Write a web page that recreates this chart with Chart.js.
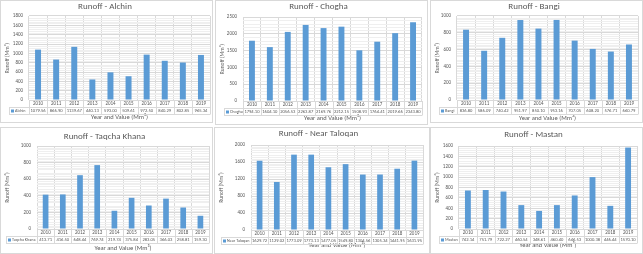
<!DOCTYPE html>
<html>
<head>
<meta charset="utf-8">
<script src="https://cdn.jsdelivr.net/npm/chart.js@4/dist/chart.umd.min.js"></script>
<style>
  body { margin: 0; background: #fff; width: 643px; height: 254px; position: relative; overflow: hidden; }
  canvas { position: absolute; outline: 1px solid #d9d9d9; outline-offset: -1px; }
</style>
</head>
<body>
<canvas id="c0"></canvas>
<canvas id="c1"></canvas>
<canvas id="c2"></canvas>
<canvas id="c3"></canvas>
<canvas id="c4"></canvas>
<canvas id="c5"></canvas>
<script>
// 데이터 (Mm³)
var years = ['2010', '2011', '2012', '2013', '2014', '2015', '2016', '2017', '2018', '2019'];
var alchin = [1079.56, 866.90, 1139.67, 440.13, 593.00, 509.61, 972.50, 840.29, 802.85, 965.34];
var chogha = [1794.10, 1604.10, 2056.53, 2263.87, 2169.76, 2212.15, 1508.93, 1764.41, 2019.66, 2343.80];
var bangi = [836.80, 586.09, 740.42, 951.97, 850.10, 953.16, 707.05, 608.20, 576.71, 660.79];
var taqchaKhana = [413.71, 416.50, 648.44, 769.74, 219.74, 375.84, 283.05, 366.03, 258.81, 159.30];
var nearTaloqan = [1629.72, 1129.02, 1773.09, 1773.13, 1477.05, 1549.80, 1304.56, 1305.34, 1441.95, 1631.95];
var mastan = [742.14, 751.79, 722.27, 460.54, 348.61, 460.40, 646.53, 1000.38, 446.44, 1570.10];

var stationNames = ['Alchin', 'Chogha', 'Bangi', 'Taqcha Khana', 'Near Taloqan', 'Mastan'];
var stationValues = [alchin, chogha, bangi, taqchaKhana, nearTaloqan, mastan];
var yMaxes = [1800, 2500, 1000, 1000, 2000, 1600];
var ySteps = [200, 500, 100, 100, 200, 200];

// 패널 위치와 크기
var boxes = [
    {x: 0,   y: 0,   w: 213, h: 123, tCY: 7,  top: 16, bot: 100, xtCY: 117, yW: 29, pr: 3, lc: 9},
    {x: 215, y: 0,   w: 213, h: 125, tCY: 7,  top: 17, bot: 101, xtCY: 118, yW: 28, pr: 6, lc: 9},
    {x: 430, y: 0,   w: 213, h: 123, tCY: 7,  top: 16, bot: 100, xtCY: 118, yW: 27, pr: 5, lc: 9},
    {x: 0,   y: 127, w: 213, h: 127, tCY: 10, top: 19, bot: 102, xtCY: 121, yW: 37, pr: 4, lc: 6},
    {x: 214, y: 127, w: 216, h: 127, tCY: 7,  top: 18, bot: 103, xtCY: 118, yW: 37, pr: 7, lc: 7},
    {x: 430, y: 127, w: 213, h: 127, tCY: 8,  top: 19, bot: 102, xtCY: 118, yW: 29, pr: 6, lc: 9}
];

var FONT = 'Carlito, Lato, "Liberation Sans", sans-serif';
var TEXT = '#595959';
var GRID = '#d9d9d9';
var BAR = '#5B9BD5';

// 보조 눈금선 (주 눈금의 1/5)
var minorGridPlugin = {
    id: 'minorGrid',
    beforeDatasetsDraw: function(chart, args, opts) {
        var ys = chart.scales.y, a = chart.chartArea, ctx = chart.ctx;
        var minor = opts.step / 5;
        ctx.save();
        ctx.strokeStyle = '#efefef';
        ctx.lineWidth = 1;
        for (var v = minor; v < ys.max; v += minor) {
            if (Math.abs(v / opts.step - Math.round(v / opts.step)) < 1e-6) continue;
            var y = Math.round(ys.getPixelForValue(v)) + 0.5;
            ctx.beginPath(); ctx.moveTo(a.left, y); ctx.lineTo(a.right, y); ctx.stroke();
        }
        ctx.restore();
    }
};

// 차트 아래 데이터 표
var dataTablePlugin = {
    id: 'dataTable',
    afterDraw: function(chart, args, opts) {
        var ctx = chart.ctx, xs = chart.scales.x, a = chart.chartArea;
        var n = chart.data.labels.length;
        var cw = (xs.right - xs.left) / n;
        var r1 = a.bottom + opts.rowH, r2 = r1 + opts.rowH;
        var values = chart.data.datasets[0].data;
        ctx.save();
        ctx.strokeStyle = GRID;
        ctx.lineWidth = 1;
        ctx.beginPath();
        ctx.moveTo(opts.left, Math.round(r1) + 0.5); ctx.lineTo(xs.right, Math.round(r1) + 0.5);
        ctx.moveTo(opts.left, Math.round(r2) + 0.5); ctx.lineTo(xs.right, Math.round(r2) + 0.5);
        ctx.moveTo(opts.left + 0.5, Math.round(r1)); ctx.lineTo(opts.left + 0.5, Math.round(r2));
        for (var i = 0; i <= n; i++) {
            var x = Math.round(xs.left + i * cw) + 0.5;
            ctx.moveTo(x, a.bottom); ctx.lineTo(x, Math.round(r2) + 0.5);
        }
        ctx.stroke();

        ctx.fillStyle = TEXT;
        ctx.font = '4.6px ' + FONT;
        ctx.textAlign = 'center';
        ctx.textBaseline = 'middle';
        var ym = (r1 + r2) / 2 + 0.5;
        for (var j = 0; j < n; j++) {
            ctx.fillText(values[j].toFixed(2), xs.getPixelForValue(j), ym);
        }
        // 범례 표시
        ctx.fillStyle = BAR;
        ctx.fillRect(opts.left + 2, ym - 1.5, 3, 3);
        ctx.fillStyle = TEXT;
        ctx.textAlign = 'left';
        ctx.font = '4.2px ' + FONT;
        ctx.fillText(chart.data.datasets[0].label, opts.left + 6, ym);
        ctx.restore();
    }
};

stationNames.forEach(function(name, k) {
    var b = boxes[k];
    var canvas = document.getElementById('c' + k);
    canvas.width = b.w;
    canvas.height = b.h;
    canvas.style.left = b.x + 'px';
    canvas.style.top = b.y + 'px';

    new Chart(canvas.getContext('2d'), {
        type: 'bar',
        data: {
            labels: years,
            datasets: [{
                label: name,
                data: stationValues[k],
                backgroundColor: BAR,
                barPercentage: 0.33,
                categoryPercentage: 1
            }]
        },
        options: {
            responsive: false,
            animation: false,
            devicePixelRatio: 1,
            layout: { padding: { left: 0, right: b.pr, top: 0, bottom: b.h - (b.xtCY + 3.9) } },
            plugins: {
                legend: { display: false },
                tooltip: { enabled: false },
                title: {
                    display: true,
                    text: 'Runoff - ' + name,
                    color: TEXT,
                    font: { family: FONT, size: 9, weight: 'normal' },
                    padding: { top: b.tCY - 5.4, bottom: b.top - (b.tCY + 5.4) }
                },
                minorGrid: { step: ySteps[k] },
                dataTable: { rowH: 7, left: b.lc }
            },
            scales: {
                x: {
                    grid: { color: GRID, drawTicks: false, offset: true },
                    border: { color: GRID },
                    ticks: { color: TEXT, font: { family: FONT, size: 5 }, padding: 1, maxRotation: 0, autoSkip: false },
                    title: { display: true, text: 'Year and Value (Mm³)', color: TEXT, font: { family: FONT, size: 6.5 }, padding: 0 },
                    afterFit: function(s) { s.height = b.xtCY + 3.9 - b.bot; }
                },
                y: {
                    min: 0,
                    max: yMaxes[k],
                    grid: { color: GRID, drawTicks: false },
                    border: { display: false },
                    ticks: {
                        stepSize: ySteps[k], color: TEXT, font: { family: FONT, size: 5 }, padding: 6,
                        callback: function(v) { return String(v); }
                    },
                    title: { display: true, text: 'Runoff (Mm³)', color: TEXT, font: { family: FONT, size: 5.5 }, padding: { top: 4, bottom: 0 } },
                    afterFit: function(s) { s.width = b.yW; }
                }
            }
        },
        plugins: [minorGridPlugin, dataTablePlugin]
    });
});
</script>
</body>
</html>
